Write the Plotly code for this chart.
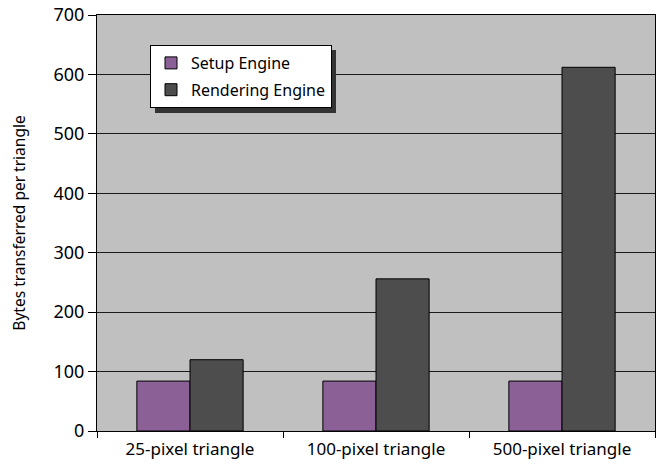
import plotly.graph_objects as go

# Bytes transferred per triangle for each pipeline stage
categories = ["25-pixel triangle", "100-pixel triangle", "500-pixel triangle"]
setup_engine = [84, 84, 84]
rendering_engine = [120, 256, 612]
y_ticks = [0, 100, 200, 300, 400, 500, 600, 700]

W, H = 657, 464
L, R, T, B = 97, 2, 15, 33

FONT = "Noto Sans"

fig = go.Figure()
fig.add_trace(go.Bar(
    x=categories, y=setup_engine, name="Setup Engine", legendgroup="a",
    marker=dict(color="#8B6096", line=dict(color="#000000", width=1)),
))
fig.add_trace(go.Bar(
    x=categories, y=rendering_engine, name="Rendering Engine", legendgroup="b",
    marker=dict(color="#4D4D4D", line=dict(color="#000000", width=1)),
))

# legend drop shadow (paper coordinates)
pw = W - L - R
ph = H - T - B
def px(x):
    return (x - L) / pw
def py(y):
    return (H - B - y) / ph

LEG_X0, LEG_Y0 = 150, 45
LEG_W, LEG_H = 181, 63
SH = 5
fig.add_shape(type="rect", xref="paper", yref="paper",
              x0=px(LEG_X0 + SH), x1=px(LEG_X0 + LEG_W + SH),
              y0=py(LEG_Y0 + LEG_H + SH), y1=py(LEG_Y0 + SH),
              fillcolor="#333333", line=dict(width=0), layer="above")

fig.update_layout(
    width=W, height=H,
    margin=dict(l=L, r=R, t=T, b=B, pad=0),
    paper_bgcolor="white",
    plot_bgcolor="#C0C0C0",
    barmode="group",
    bargap=0.4286,
    bargroupgap=0,
    font=dict(family=FONT, size=16, color="#000000"),
    legend=dict(
        x=px(LEG_X0), y=py(LEG_Y0), xanchor="left", yanchor="top",
        bgcolor="white", bordercolor="#000000", borderwidth=1,
        font=dict(family=FONT, size=16),
        itemwidth=30, tracegroupgap=3,
    ),
    showlegend=True,
)
fig.update_xaxes(
    showline=True, linecolor="#000000", linewidth=1, mirror=True,
    ticks="outside", ticklen=6, tickcolor="#000000", tickson="boundaries",
    showgrid=False, tickfont=dict(family=FONT, size=17),
    ticklabelstandoff=3,
)
fig.update_yaxes(
    range=[0, 700], tickvals=y_ticks,
    showline=True, linecolor="#000000", linewidth=1, mirror=True,
    ticks="outside", ticklen=8, tickcolor="#000000",
    showgrid=True, gridcolor="#1a1a1a", gridwidth=1,
    zeroline=False,
    tickfont=dict(family=FONT, size=18),
    title=dict(text="Bytes transferred per triangle", font=dict(family=FONT, size=15.5), standoff=24),
)

fig.write_html("out.html")
